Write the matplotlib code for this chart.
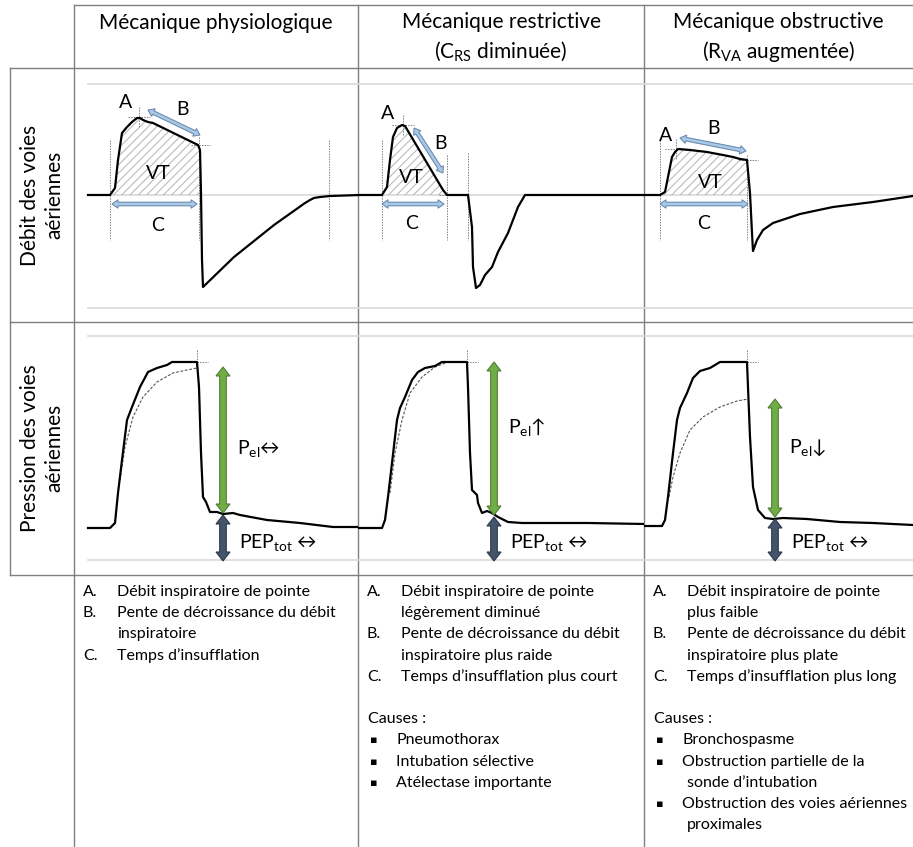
import numpy as np
import matplotlib
matplotlib.use("Agg")
import matplotlib.pyplot as plt
from matplotlib.patches import Polygon

plt.rcParams['font.family'] = ['Lato', 'DejaVu Sans']
plt.rcParams['mathtext.fontset'] = 'custom'
plt.rcParams['mathtext.rm'] = 'Lato'
plt.rcParams['mathtext.it'] = 'Lato:italic'
plt.rcParams['hatch.linewidth'] = 0.7

W, H = 913, 847

# ---- data (time offset, value) ----
# flow: 0 = zero flow ; pressure: 0 = zero pressure
flow_phys_t = [14, 36, 41, 44, 48, 53, 58, 63, 66, 69, 74, 79, 124, 126, 127, 128, 129, 160, 200, 231, 236, 240, 246, 256, 286]
flow_phys_v = [0, 0, 7, 35, 62, 68, 73, 77, 77, 75, 73, 72, 50, 45, 2, -65, -92, -62, -30, -8, -5, -3, -2, -1, 0]
flow_rest_t = [0, 24, 29, 32, 35, 39, 44, 47, 85, 89, 110, 114, 115, 118, 122, 127, 134, 140, 150, 160, 167, 286]
flow_rest_v = [0, 0, 8, 35, 58, 67, 70, 69, 5, 0, 0, -32, -72, -93, -90, -80, -72, -57, -38, -12, 0, 0]
flow_obst_t = [0, 16, 21, 24, 28, 31, 34, 46, 63, 79, 89, 96, 103, 106, 108, 109, 113, 119, 129, 156, 189, 229, 269]
flow_obst_v = [0, 0, 3, 18, 38, 43, 46, 45, 43, 40, 38, 36, 35, 2, -38, -56, -45, -35, -28, -19, -12, -7, -1]

pres_phys_t = [14, 36, 41, 44, 48, 53, 58, 66, 74, 83, 93, 98, 123, 125, 127, 129, 132, 134, 136, 143, 149, 159, 166, 193, 226, 259, 286]
pres_phys_v = [32, 32, 37, 67, 100, 140, 153, 173, 188, 192, 195, 198, 198, 173, 107, 63, 58, 53, 48, 48, 46, 47, 45, 40, 37, 33, 33]
pres_rest_t = [0, 24, 27, 30, 34, 39, 42, 47, 54, 60, 67, 77, 84, 109, 110, 112, 114, 119, 120, 124, 129, 134, 140, 150, 164, 230, 286]
pres_rest_v = [32, 32, 40, 63, 97, 140, 152, 163, 180, 188, 192, 194, 198, 198, 173, 107, 70, 65, 57, 47, 49, 47, 43, 38, 37, 37, 36]
pres_obst_t = [0, 18, 21, 24, 29, 33, 36, 43, 49, 56, 66, 76, 103, 104, 106, 109, 114, 121, 129, 139, 163, 196, 229, 269]
pres_obst_v = [34, 34, 40, 63, 107, 140, 152, 167, 182, 189, 192, 198, 198, 173, 123, 73, 50, 42, 41, 42, 41, 38, 37, 35]

# theoretical (dashed) pressure curves
theo_phys_t = [46, 51, 59, 69, 83, 99, 113, 123]
theo_phys_v = [80, 113, 143, 163, 178, 187, 190, 192]
theo_rest_t = [32, 37, 44, 52, 64, 77, 90]
theo_rest_v = [67, 107, 140, 167, 183, 193, 198]
theo_obst_t = [25, 29, 36, 46, 59, 76, 93, 104]
theo_obst_v = [63, 83, 107, 130, 143, 153, 159, 161]

# inspiration window (VT area), peak and end-inspiration points
insp_start = [36, 24, 16]
insp_end = [125, 89, 103]
exp_end = [255, 110, 269]
peak_t = [65, 45, 32]
peak_v = [78, 70, 46]
endi_v = [50, 0, 35]
plateau = [198, 198, 198]
plateau_t = [123, 109, 103]
pel_top = [193, 198, 161]
pel_bottom = [47, 45, 43]
peep_top = [45, 43, 41]
pel_arrow_t = [149, 136, 131]
b_arrow = [((74, 85), (126, 60)), ((56, 67), (85, 22)), ((36, 57), (102, 44))]
c_arrow = [(38, 123), (24, 86), (16, 104)]
lbl_A = [(52, 93), (30, 82), (22, 60)]
lbl_B = [(108, 86), (82, 52), (69, 67)]
lbl_VT = [(84, 22), (53, 18), (66, 13)]
lbl_C = [(84, -30), (54, -28), (60, -28)]
pel_sym = ['↔', '↑', '↓']
pel_lbl_y = [112, 133, 112]

headers = [["Mécanique physiologique"],
           ["Mécanique restrictive", r"(C$_{\mathrm{RS}}$ diminuée)"],
           ["Mécanique obstructive", r"(R$_{\mathrm{VA}}$ augmentée)"]]
row_labels = ["Débit des voies\naériennes", "Pression des voies\naériennes"]

notes = [
    [("A.", "Débit inspiratoire de pointe"), ("B.", "Pente de décroissance du débit"),
     ("", "inspiratoire"), ("C.", "Temps d’insufflation")],
    [("A.", "Débit inspiratoire de pointe"), ("", "légèrement diminué"),
     ("B.", "Pente de décroissance du débit"), ("", "inspiratoire plus raide"),
     ("C.", "Temps d’insufflation plus court"), None, ("Causes :", None),
     ("▪", "Pneumothorax"), ("▪", "Intubation sélective"), ("▪", "Atélectase importante")],
    [("A.", "Débit inspiratoire de pointe"), ("", "plus faible"),
     ("B.", "Pente de décroissance du débit"), ("", "inspiratoire plus plate"),
     ("C.", "Temps d’insufflation plus long"), None, ("Causes :", None),
     ("▪", "Bronchospasme"), ("▪", "Obstruction partielle de la"), ("", "sonde d’intubation"),
     ("▪", "Obstruction des voies aériennes"), ("", "proximales")],
]

flows = [(flow_phys_t, flow_phys_v), (flow_rest_t, flow_rest_v), (flow_obst_t, flow_obst_v)]
press = [(pres_phys_t, pres_phys_v), (pres_rest_t, pres_rest_v), (pres_obst_t, pres_obst_v)]
theos = [(theo_phys_t, theo_phys_v), (theo_rest_t, theo_rest_v), (theo_obst_t, theo_obst_v)]

cols = [74, 358, 644, 913]
rows = [68, 322, 575]
flow_zero = 195
pres_zero = 560

fig = plt.figure(figsize=(W / 100, H / 100), dpi=100)
base = fig.add_axes([0, 0, 1, 1])
base.set_xlim(0, W)
base.set_ylim(H, 0)
base.axis('off')

gridc = '#7f7f7f'
base.plot([74, 913], [5, 5], color=gridc, lw=1)
for y in [68, 322, 575]:
    base.plot([10, 913], [y, y], color=gridc, lw=1)
base.plot([10, 10], [68, 575], color=gridc, lw=1)
for x in cols[:3]:
    base.plot([x, x], [5, 847], color=gridc, lw=1)

# headers
for i, hl in enumerate(headers):
    cx = (cols[i] + cols[i + 1]) / 2
    if len(hl) == 1:
        base.text(cx, 23, hl[0], ha='center', va='center', fontsize=15)
    else:
        base.text(cx, 22, hl[0], ha='center', va='center', fontsize=15)
        base.text(cx, 51, hl[1], ha='center', va='center', fontsize=15)

base.text(42, 195, row_labels[0], rotation=90, ha='center', va='center', fontsize=15, linespacing=1.25)
base.text(42, 448, row_labels[1], rotation=90, ha='center', va='center', fontsize=15, linespacing=1.25)

# notes
fs_note = 11.5
for i, col in enumerate(notes):
    x0 = cols[i]
    for j, item in enumerate(col):
        if item is None:
            continue
        y = 592 + 21.2 * j
        mk, txt = item
        if txt is None:
            base.text(x0 + 10, y, mk, va='center', fontsize=fs_note)
        elif mk == "▪":
            base.text(x0 + 12, y, mk, va='center', fontsize=8, family='DejaVu Sans')
            base.text(x0 + 38, y, txt, va='center', fontsize=fs_note)
        else:
            base.text(x0 + 9, y, mk, va='center', fontsize=fs_note)
            base.text(x0 + 43, y, txt, va='center', fontsize=fs_note)


def panel(i, top, bottom, zero):
    l, r = cols[i], cols[i + 1]
    ax = fig.add_axes([l / W, 1 - bottom / H, (r - l) / W, (bottom - top) / H])
    ax.set_xlim(0, r - l)
    ax.set_ylim(zero - bottom, zero - top)
    ax.axis('off')
    return ax


def dbl_arrow(ax, p0, p1, fc, ec, sw, hw, hl):
    # fat double-headed arrow, sizes in pixels, ends given in data coords
    tr = ax.transData
    a = tr.transform(p0)
    b = tr.transform(p1)
    u = (b - a) / np.hypot(*(b - a))
    n = np.array([-u[1], u[0]])
    pts = [a, a + u * hl + n * hw, a + u * hl + n * sw, b - u * hl + n * sw, b - u * hl + n * hw,
           b, b - u * hl - n * hw, b - u * hl - n * sw, a + u * hl - n * sw, a + u * hl - n * hw]
    pts = tr.inverted().transform(np.array(pts))
    ax.add_patch(Polygon(pts, closed=True, facecolor=fc, edgecolor=ec, lw=0.8,
                         joinstyle='miter', clip_on=False, zorder=6))


lightgray = '#d9d9d9'
dash = dict(color='#7f7f7f', lw=0.7, ls=(0, (1.5, 1.2)))
blue_fc, blue_ec = '#a9c9e6', '#6b8cb0'

for i in range(3):
    # ---- flow row ----
    ax = panel(i, rows[0], rows[1], flow_zero)
    width = cols[i + 1] - cols[i]
    x_start = 14 if i == 0 else 0
    for yv in [111, 0, -113]:
        ax.plot([x_start, width], [yv, yv], color=lightgray, lw=1.2, zorder=1)
    t = np.array(flows[i][0], float)
    v = np.array(flows[i][1], float)
    tt = np.linspace(insp_start[i], insp_end[i], 200)
    vv = np.interp(tt, t, v)
    ax.fill_between(tt, vv, 0, facecolor='none', edgecolor='#b3b3b3', hatch='////', lw=0, zorder=2)
    ax.plot(t, v, color='black', lw=1.6, zorder=4, solid_joinstyle='round')
    for xv, top in zip([insp_start[i], insp_end[i], exp_end[i]], [55, 58 if i == 0 else 40, 55 if i != 1 else 42]):
        ax.plot([xv, xv], [top, -45], zorder=3, **dash)
    ax.plot([peak_t[i], peak_t[i]], [peak_v[i] + 10, peak_v[i] - 10], zorder=3, **dash)
    ax.plot([peak_t[i] - 11, peak_t[i] + 11], [peak_v[i], peak_v[i]], zorder=3, **dash)
    ax.plot([insp_end[i] - 8, insp_end[i] + 11], [endi_v[i], endi_v[i]], zorder=3, **dash)
    dbl_arrow(ax, b_arrow[i][0], b_arrow[i][1], blue_fc, blue_ec, 1.8, 4.2, 6)
    dbl_arrow(ax, (c_arrow[i][0], -9), (c_arrow[i][1], -9), blue_fc, blue_ec, 1.8, 4.2, 6)
    for lbl, pos in zip(['A', 'B', 'VT', 'C'], [lbl_A[i], lbl_B[i], lbl_VT[i], lbl_C[i]]):
        ax.text(pos[0], pos[1], lbl, ha='center', va='center', fontsize=14, zorder=5)

    # ---- pressure row ----
    ax = panel(i, rows[1], rows[2], pres_zero)
    for yv in [224, 0]:
        ax.plot([x_start, width], [yv, yv], color=lightgray, lw=1.2, zorder=1)
    ax.plot(theos[i][0], theos[i][1], color='#555555', lw=0.8, ls=(0, (2.5, 1.5)), zorder=3)
    ax.plot(press[i][0], press[i][1], color='black', lw=1.6, zorder=4, solid_joinstyle='round')
    ax.plot([plateau_t[i], plateau_t[i]], [plateau[i] + 12, plateau[i] - 6], zorder=3, **dash)
    ax.plot([plateau_t[i], plateau_t[i] + 11], [plateau[i], plateau[i]], zorder=3, **dash)
    dbl_arrow(ax, (pel_arrow_t[i], pel_bottom[i]), (pel_arrow_t[i], pel_top[i]),
              '#70ad47', '#4e7f30', 3.3, 7, 9)
    dbl_arrow(ax, (pel_arrow_t[i], -1), (pel_arrow_t[i], peep_top[i]),
              '#44546a', '#2c3a4c', 3.3, 7, 9)
    ax.text(pel_arrow_t[i] + 14, pel_lbl_y[i], r'P$_{\mathrm{el}}$' + pel_sym[i],
            ha='left', va='center', fontsize=14, zorder=5)
    ax.text(pel_arrow_t[i] + 16, 18, r'PEP$_{\mathrm{tot}}$ ↔', ha='left', va='center',
            fontsize=14, zorder=5)

fig.savefig('out.png', dpi=100)
